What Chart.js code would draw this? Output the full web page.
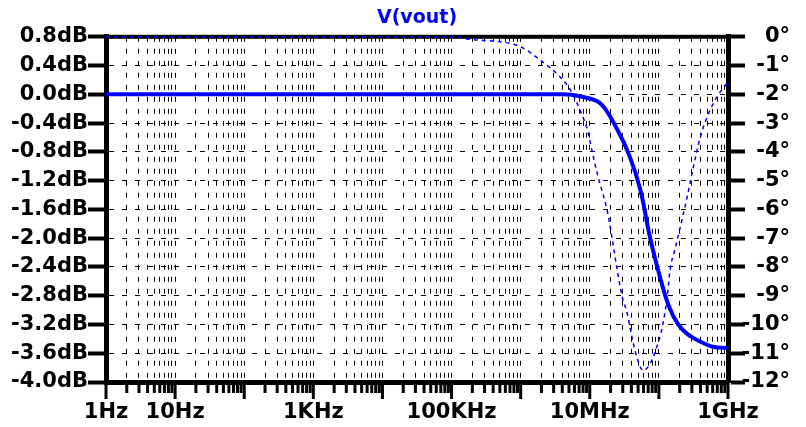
<!DOCTYPE html>
<html>
<head>
<meta charset="utf-8">
<script src="https://cdn.jsdelivr.net/npm/chart.js@4.4.1/dist/chart.umd.min.js"></script>
<style>
  html, body { margin: 0; padding: 0; background: #fff; }
  canvas { display: block; }
</style>
</head>
<body>
<canvas id="bode" width="806" height="427"></canvas>
<script>
// magnitude, V(vout) in dB
const magFreq = [1, 1e3, 1e6, 4e6, 6.6e6, 1.4e7, 2.5e7, 3.8e7, 5.4e7, 7.4e7, 1.05e8, 1.4e8, 1.9e8, 2.57e8, 4e8, 6.07e8, 1e9];
const magDb = [0, 0, 0, 0, -0.02, -0.12, -0.49, -0.87, -1.33, -1.98, -2.56, -2.95, -3.2, -3.33, -3.44, -3.51, -3.53];

// phase in degrees (dashed)
const phaseFreq = [1, 1e5, 2e5, 5e5, 1e6, 1.9e6, 3.7e6, 5.2e6, 7.2e6, 9.5e6, 1.07e7, 1.32e7, 1.78e7, 2.09e7, 2.45e7, 2.95e7, 3.47e7, 4.07e7, 4.79e7, 5.9e7, 6.76e7, 7.94e7, 9.33e7, 1.12e8, 1.32e8, 1.45e8, 1.7e8, 2.04e8, 2.57e8, 3.09e8, 3.98e8, 5.01e8, 6.92e8, 1e9];
const phaseDeg = [0, 0, -0.1, -0.17, -0.35, -0.8, -1.39, -1.84, -2.54, -3.34, -3.93, -4.87, -6.02, -6.96, -8.0, -9.04, -9.6, -10.43, -11.13, -11.6, -11.51, -11.23, -10.78, -10.09, -9.04, -8.1, -7.41, -6.61, -5.56, -4.63, -3.48, -2.78, -2.09, -1.57];

// axis ticks
const xLabelValues = [1, 10, 1e3, 1e5, 1e7, 1e9];
const xLabels = ['1Hz', '10Hz', '1KHz', '100KHz', '10MHz', '1GHz'];
const dbTicks = [0.8, 0.4, 0, -0.4, -0.8, -1.2, -1.6, -2.0, -2.4, -2.8, -3.2, -3.6, -4.0];
const dbLabels = ['0.8dB', '0.4dB', '0.0dB', '-0.4dB', '-0.8dB', '-1.2dB', '-1.6dB', '-2.0dB', '-2.4dB', '-2.8dB', '-3.2dB', '-3.6dB', '-4.0dB'];
const degTicks = [0, -1, -2, -3, -4, -5, -6, -7, -8, -9, -10, -11, -12];
const degLabels = ['0°', '-1°', '-2°', '-3°', '-4°', '-5°', '-6°', '-7°', '-8°', '-9°', '-10°', '-11°', '-12°'];

// grid positions 1..9 per decade
const gridFreqs = [];
for (let d = 0; d < 9; d++) {
    for (let m = 1; m <= 9; m++) gridFreqs.push(m * Math.pow(10, d));
}
gridFreqs.push(1e9);

const BLUE = '#0000ff';
Chart.defaults.font.family = 'DejaVu Sans';
Chart.defaults.font.weight = 'bold';
Chart.defaults.font.size = 21;
Chart.defaults.color = '#000';

// top frame line and the x tick marks below the axis
const framePlugin = {
    id: 'frame',
    beforeDatasetsDraw(chart) {
        const {ctx, chartArea} = chart;
        const xs = chart.scales.x;
        ctx.save();
        ctx.fillStyle = '#000';
        ctx.fillRect(chartArea.left - 2, chartArea.top - 2, chartArea.right - chartArea.left + 4, 4);
        xs.ticks.forEach(t => {
            const px = xs.getPixelForValue(t.value);
            const decade = Math.abs(Math.log10(t.value) - Math.round(Math.log10(t.value))) < 1e-9;
            ctx.fillRect(px - 1.5, chartArea.bottom, 3, decade ? 17 : 11);
        });
        ctx.restore();
    }
};

new Chart(document.getElementById('bode'), {
    type: 'line',
    data: {
        datasets: [
            {
                label: 'mag',
                data: magFreq.map((f, i) => ({x: f, y: magDb[i]})),
                yAxisID: 'y',
                borderColor: BLUE,
                borderWidth: 4,
                pointRadius: 0,
                tension: 0.35,
                clip: false
            },
            {
                label: 'phase',
                data: phaseFreq.map((f, i) => ({x: f, y: phaseDeg[i]})),
                yAxisID: 'y1',
                borderColor: BLUE,
                borderWidth: 1.5,
                borderDash: [4, 4],
                pointRadius: 0,
                cubicInterpolationMode: 'monotone',
                clip: false
            }
        ]
    },
    options: {
        responsive: false,
        animation: false,
        layout: { padding: { left: 10, right: 16, top: 0, bottom: 0 } },
        plugins: {
            legend: { display: false },
            tooltip: { enabled: false },
            title: {
                display: true,
                text: 'V(vout)',
                color: BLUE,
                fullSize: false,
                font: { size: 19, weight: 'bold' },
                padding: { top: 7, bottom: 7 }
            }
        },
        scales: {
            x: {
                type: 'logarithmic',
                min: 1,
                max: 1e9,
                afterBuildTicks: s => { s.ticks = gridFreqs.map(v => ({value: v})); },
                afterFit: s => { s.height = 45; },
                ticks: {
                    autoSkip: false,
                    maxRotation: 0,
                    padding: 18,
                    callback: v => {
                        const i = xLabelValues.findIndex(a => Math.abs(a - v) / a < 1e-6);
                        return i >= 0 ? xLabels[i] : '';
                    }
                },
                grid: { color: '#000', lineWidth: 1, drawTicks: false },
                border: { color: '#000', width: 5, dash: [5, 7] }
            },
            y: {
                position: 'left',
                min: -4.0,
                max: 0.8,
                afterBuildTicks: s => { s.ticks = dbTicks.map(v => ({value: v})); },
                afterFit: s => { s.width = 96; },
                ticks: {
                    padding: 0,
                    callback: (v, i) => dbLabels[i]
                },
                grid: { color: '#000', lineWidth: 1, tickLength: 18, tickWidth: 4, tickColor: '#000', tickBorderDash: [] },
                border: { color: '#000', width: 5, dash: [5, 8] }
            },
            y1: {
                position: 'right',
                min: -12,
                max: 0,
                afterBuildTicks: s => { s.ticks = degTicks.map(v => ({value: v})); },
                afterFit: s => { s.width = 62; },
                ticks: {
                    crossAlign: 'far',
                    callback: (v, i) => degLabels[i]
                },
                grid: { drawOnChartArea: false, tickLength: 17, tickWidth: 4, tickColor: '#000' },
                border: { color: '#000', width: 5 }
            }
        }
    },
    plugins: [framePlugin]
});
</script>
</body>
</html>
